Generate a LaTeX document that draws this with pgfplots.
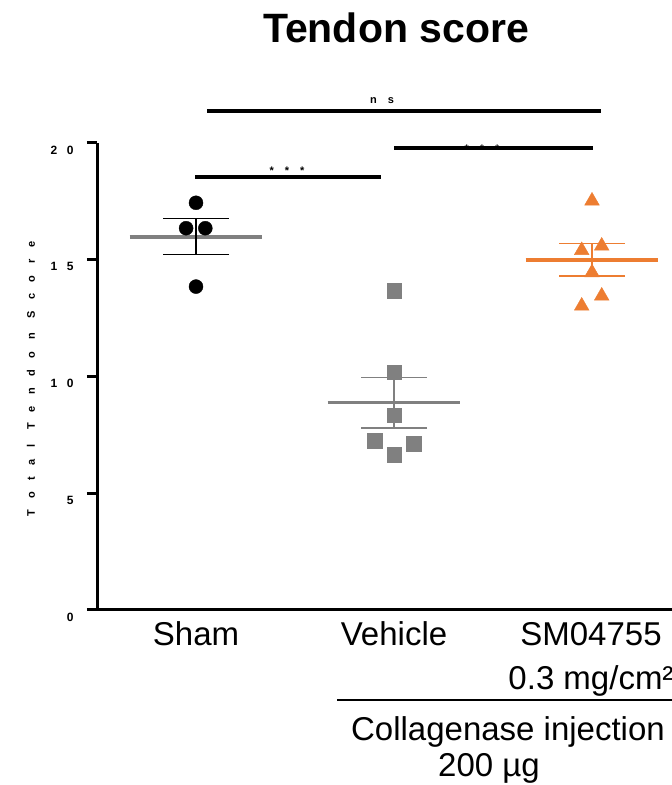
\documentclass[border=0pt]{standalone}
\usepackage{pgfplots}
\pgfplotsset{compat=1.18}
\usepackage{fontspec}
\setmainfont{Liberation Sans}
\definecolor{vgray}{HTML}{808080}
\definecolor{sorange}{HTML}{ED7D31}
\newcommand{\spaced}{\addfontfeature{LetterSpace=100}}

\begin{document}
\begin{tikzpicture}[x=1pt,y=1pt]
\useasboundingbox (0,0) rectangle (672,785);
\clip (0,0) rectangle (672,785);
\begin{axis}[
  scale only axis, width=693pt, height=467pt,
  at={(97pt,175pt)}, anchor=south west,
  xmin=-0.5, xmax=3, ymin=0, ymax=20,
  axis x line=bottom, axis y line=left,
  axis line style={line width=3pt,-},
  xtick=\empty,
  ytick={0,5,10,15,20},
  yticklabels={0,5,10,15,20},
  yticklabel style={font=\fontsize{12}{12}\selectfont\bfseries\addfontfeature{LetterSpace=80},
    xshift=-10pt, yshift=-7pt},
  tick align=outside, major tick length=10pt,
  tick style={line width=3pt, black},
  clip=false,
]
% group means
\addplot[vgray, line width=4pt, mark=none] coordinates {(-0.335,15.99)(0.335,15.99)};
\addplot[vgray, line width=3pt, mark=none] coordinates {(0.665,8.88)(1.335,8.88)};
\addplot[sorange, line width=4pt, mark=none] coordinates {(1.665,15.0)(2.335,15.0)};
% SEM
\addplot[black, mark=none, error bars/.cd, y dir=both, y explicit, error mark=|,
  error bar style={black, line width=1.5pt},
  error mark options={black, mark size=33pt, line width=1.5pt}]
  coordinates {(0,15.99) +- (0,0.77)};
\addplot[vgray, mark=none, error bars/.cd, y dir=both, y explicit, error mark=|,
  error bar style={vgray, line width=1.5pt},
  error mark options={vgray, mark size=33pt, line width=1.5pt}]
  coordinates {(1,8.88) +- (0,1.08)};
\addplot[sorange, mark=none, error bars/.cd, y dir=both, y explicit, error mark=|,
  error bar style={sorange, line width=1.5pt},
  error mark options={sorange, mark size=33pt, line width=1.5pt}]
  coordinates {(2,15.0) +- (0,0.69)};
% individual animals
\addplot[only marks, mark=*, mark size=7pt, black]
  coordinates {(0,17.44)(-0.05,16.35)(0.047,16.35)(0,13.85)};
\addplot[only marks, mark=square*, mark size=7.3pt, vgray]
  coordinates {(1,13.67)(1,10.18)(1,8.35)(0.902,7.24)(1.1,7.11)(1,6.65)};
\addplot[only marks, mark=triangle*, mark size=8.5pt, sorange]
  coordinates {(2,17.52)(1.948,15.4)(2.049,15.59)(2,14.45)(2.049,13.45)(1.948,13.02)};
\end{axis}

% title and y label
\node[font=\fontsize{41}{41}\selectfont\bfseries] at (396,757) {Tendon score};
\node[rotate=90, font=\fontsize{11}{11}\selectfont\bfseries\addfontfeature{LetterSpace=105}] at (31,406) {Total Tendon Score};

% significance
\node[font=\fontsize{11}{11}\selectfont\bfseries\spaced] at (482,636) {***};
\draw[line width=4pt] (195,608) -- (381,608);
\draw[line width=4pt] (394,637) -- (593,637);
\draw[line width=4pt] (207,674) -- (601,674);
\node[font=\fontsize{11}{11}\selectfont\bfseries\spaced] at (287,614) {***};
\node[font=\fontsize{11}{11}\selectfont\bfseries\spaced] at (382,684) {ns};

% group labels
\begin{scope}[every node/.style={anchor=base, font=\fontsize{33}{40}\selectfont}]
\node at (196,139) {Sham};
\node at (394,139) {Vehicle};
\node at (591,139) {SM04755};
\node at (591,95) {0.3 mg/cm²};
\node at (508,45) {Collagenase injection};
\node at (489,9) {200 µg};
\end{scope}
\draw[line width=2pt] (337,85) -- (700,85);
\end{tikzpicture}
\end{document}
